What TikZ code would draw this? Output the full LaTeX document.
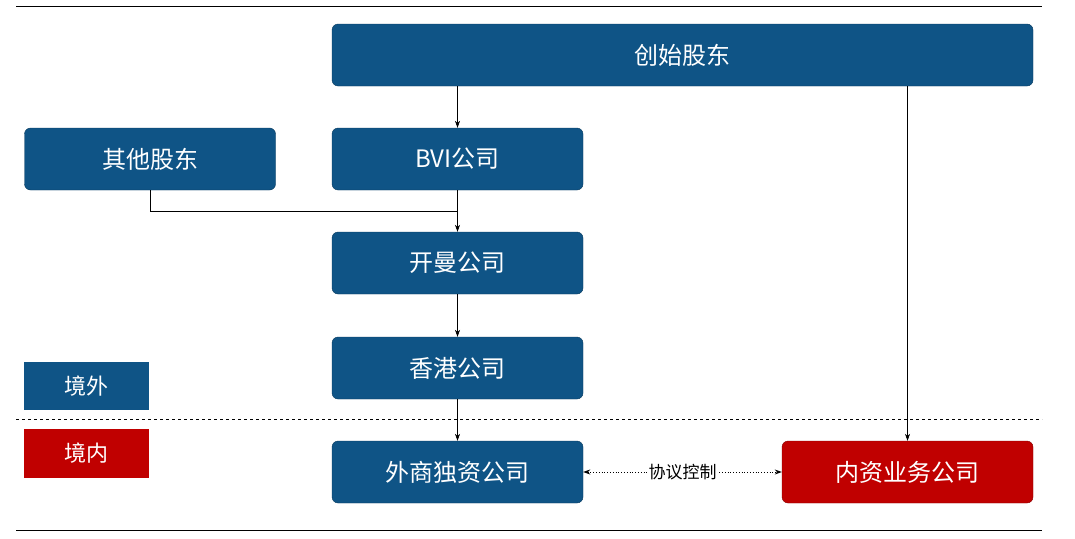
\documentclass[tikz,border=0pt]{standalone}
\usepackage{fontspec}
\newfontfamily\cjk{Noto Sans CJK SC}
\usetikzlibrary{arrows.meta}
\definecolor{bblue}{HTML}{0F5486}
\definecolor{rred}{HTML}{C00000}
\begin{document}
\begin{tikzpicture}[x=1pt,y=-1pt,
  box/.style={draw=bblue!70!black,fill=bblue,rounded corners=6pt,text=white,font=\cjk\fontsize{24}{28}\selectfont,inner sep=0pt},
  tag/.style={fill=#1,text=white,font=\cjk\fontsize{22}{26}\selectfont,inner sep=0pt},
  arr/.style={-{Stealth[length=7pt,width=5pt]},line width=0.6pt}]
\useasboundingbox (0,0) rectangle (1075,538);
\draw[line width=1pt] (16,6) -- (1042,6);
\draw[line width=1pt] (16,530) -- (1042,530);
\draw[dashed,line width=1pt] (16,419) -- (1042,419);
\node[box,minimum width=701pt,minimum height=62pt] (f) at (682.5,55) {创始股东};
\node[box,minimum width=251pt,minimum height=62pt] (o) at (150,159) {其他股东};
\node[box,minimum width=251pt,minimum height=62pt] (b) at (457.5,159) {BVI公司};
\node[box,minimum width=251pt,minimum height=62pt] (k) at (457.5,263) {开曼公司};
\node[box,minimum width=251pt,minimum height=62pt] (h) at (457.5,368) {香港公司};
\node[box,minimum width=251pt,minimum height=62pt] (w) at (457.5,472) {外商独资公司};
\node[box,fill=rred,draw=rred!70!black,minimum width=251pt,minimum height=62pt] (n) at (907.5,472) {内资业务公司};
\node[tag=bblue,minimum width=125pt,minimum height=48pt] (jw) at (86.5,386) {境外};
\node[tag=rred,minimum width=125pt,minimum height=49pt] (jn) at (86.5,453.5) {境内};
\draw[arr] (f.south -| b) -- (b);
\draw[arr] (b) -- (k);
\draw[line width=0.6pt] (o.south) |- (457.5,211);
\draw[arr] (h) -- (w);
\draw[arr] (k) -- (h);
\draw[arr] (f.south -| n) -- (n.north);
\draw[{Stealth[length=7pt,width=5pt]}-{Stealth[length=7pt,width=5pt]},dotted,line width=0.8pt] (w.east) -- node[fill=white,font=\cjk\fontsize{17}{20}\selectfont,inner sep=2pt]{协议控制} (n.west);
\end{tikzpicture}
\end{document}
